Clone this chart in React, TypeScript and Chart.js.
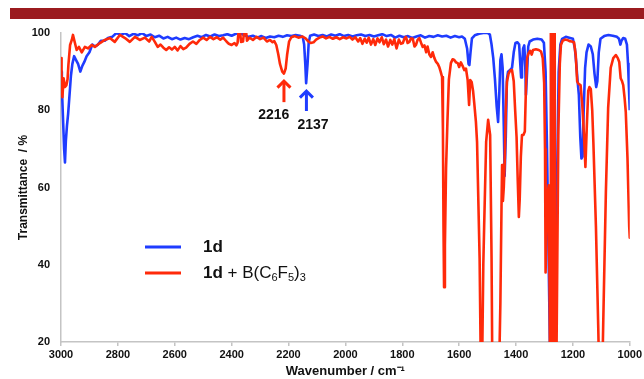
import React, { useEffect, useRef } from "react";
import { Chart, registerables } from "chart.js";

Chart.register(...registerables);

// ---- Data ----
const blueWn = [3000,2997,2993,2989,2986,2983,2979,2975,2970,2965,2960,2954,2947,2940,2932,2925,2918,2910,2900,2890,2880,2870,2860,2846,2835,2820,2805,2790,2775,2760,2745,2730,2715,2700,2685,2670,2655,2640,2625,2610,2595,2580,2565,2550,2535,2520,2505,2490,2475,2460,2445,2430,2415,2400,2385,2370,2355,2340,2325,2310,2295,2280,2265,2250,2235,2220,2205,2190,2175,2160,2150,2145,2141,2138,2136,2133,2129,2124,2110,2095,2080,2065,2050,2035,2020,2005,1990,1975,1960,1945,1930,1915,1900,1885,1870,1855,1840,1825,1810,1795,1780,1765,1750,1735,1720,1705,1690,1675,1660,1645,1630,1615,1600,1590,1580,1572,1567,1564,1560,1555,1545,1530,1515,1500,1492,1486,1480,1474,1468,1463,1459,1455,1451,1447,1443,1440,1436,1432,1428,1420,1414,1408,1402,1395,1389,1385,1382,1379,1375,1371,1368,1365,1361,1357,1352,1340,1325,1310,1302,1296,1291,1286,1281,1278,1268,1262,1256,1250,1244,1238,1225,1210,1200,1193,1188,1184,1179,1174,1170,1166,1162,1157,1152,1145,1137,1130,1124,1118,1114,1109,1103,1090,1075,1060,1045,1038,1033,1029,1023,1016,1010,1006,1003,1000];
const blueT = [90,86,78,70,66.5,72,76,79,84,89,92,94,93,92,90,91.5,92.5,94,95,97,96.5,97,98,98,98.7,99,100,99.5,100,99.2,99.8,99.4,100,99.2,99.6,98.9,99.3,98.6,99,98.4,98.8,98.3,98.7,98.4,98.9,99.3,98.9,99.5,99.1,99.6,99.2,99.4,99.7,99.3,99.8,100,99.4,99,99.3,98.8,99.2,98.7,99.1,98.9,99.3,99,99.4,99.2,99.5,99.3,99,97,92,87,87,92,97.5,99.3,99.6,99.2,99.5,99.1,99.6,99.3,99.7,99.2,99.5,99.1,99.4,99.6,99.2,99.5,99.1,99.4,99.7,99.2,99.5,98.8,99.3,98.9,99.2,98.7,99.1,99.4,98.8,99.2,99,99.4,99.1,99.3,98.8,99.2,98.9,99.1,98.5,96,92,91.7,95,98.6,99.4,99.8,100,100,99.6,97,93.5,88,81,77,84,93,94.5,91,76,63,73,88,90,90.5,91,95,97.4,97.6,97,92,88.5,91,96,96.8,93,84,90,96.5,97.8,98.3,98.5,98.3,97.5,90,70,45,20,5,5,10,60,90,97,98.5,99,98.7,98.5,96,92,88,84,73,67.5,68,80,91,95,97,96.5,94.5,89.5,86,87.5,95,98.5,99.2,99.5,99.3,99,98.5,97,98,98.7,98.5,97,92,86,80];

const redWn = [3000,2998,2995,2991,2986,2981,2977,2974,2968,2962,2958,2951,2945,2937,2927,2916,2905,2892,2881,2863,2846,2828,2811,2793,2775,2758,2740,2723,2705,2690,2681,2670,2660,2650,2640,2630,2620,2610,2600,2590,2580,2570,2560,2548,2536,2524,2512,2500,2488,2476,2464,2452,2440,2430,2418,2410,2400,2390,2383,2379,2375,2371,2367,2360,2355,2350,2346,2337,2325,2312,2300,2288,2276,2265,2256,2250,2243,2236,2230,2222,2216,2210,2205,2198,2190,2178,2165,2152,2140,2130,2122,2112,2103,2091,2080,2068,2056,2044,2032,2020,2008,1996,1985,1975,1965,1955,1948,1940,1932,1925,1918,1910,1902,1895,1887,1880,1872,1865,1857,1850,1842,1835,1828,1820,1812,1805,1798,1792,1787,1781,1775,1769,1763,1757,1752,1746,1740,1734,1728,1722,1716,1711,1705,1699,1693,1687,1681,1675,1670,1665,1660,1657,1655,1653,1650,1646,1641,1636,1629,1623,1617,1611,1605,1600,1594,1588,1582,1576,1570,1565,1561,1556,1551,1547,1541,1537,1532,1528,1524,1519,1515,1512,1505,1498,1491,1486,1483,1460,1455,1451,1449,1446,1443,1440,1436,1432,1426,1420,1414,1408,1403,1398,1394,1390,1387,1383,1379,1374,1369,1365,1361,1356,1350,1345,1340,1330,1320,1312,1306,1301,1298,1296,1293,1289,1285,1282,1280,1278,1277,1276,1275,1274,1273,1272,1271,1270,1269,1268,1267,1266,1265,1264,1263,1262,1259,1255,1251,1246,1242,1236,1228,1220,1212,1204,1196,1190,1185,1180,1173,1167,1161,1156,1151,1146,1142,1137,1132,1128,1119,1111,1107,1097,1093,1084,1076,1067,1058,1049,1042,1037,1032,1027,1023,1018,1014,1008,1002,1000];
const redT = [93.5,89,83.4,88.3,86,86.5,88,91.7,96.9,98.2,99.5,97.4,95.6,96.4,95,96.4,96,96.9,96.4,97.4,98.2,98.7,97.7,99.5,98.7,97.7,99,98.2,98.8,97.8,99,97.7,96.4,97,96.2,95.6,96.3,95.7,96.4,95.5,96.6,95.8,96.2,97.2,97.8,97.2,98.2,98.8,98.2,99,98.4,98.9,98.3,98.8,97.8,97.2,96.9,97.4,96.8,97.5,101,101,97.7,97.8,101,101,98,98.8,98.2,99,98.4,98.8,97.8,98.2,97.6,97.9,96.9,94.5,92,90,89.5,90.8,94.3,97.8,98.9,99.2,98.8,99.1,98.6,97.8,97.4,97.6,98.3,98.8,99.1,98.6,99,98.5,98.9,98.4,98.9,98.6,99,98.3,98.9,97.8,98.7,97.2,98.5,97.5,98.8,97,98.4,96.9,98.6,97.6,98.9,97.1,98.3,96.5,98.2,97,98.4,96,98.3,97.2,97.4,98.6,99,97.4,97.7,98.6,98.5,96.5,96.9,98.2,98.7,97.5,96.4,96.8,95,96.5,94.5,93.8,95,93.5,92.5,92,91.2,90,88.6,75,50,34.2,45,65,77.5,88,92.2,93.2,93,92.4,92.2,91.2,92.4,91.5,90.4,90.8,87.8,81.4,87.8,87.3,85,82,77,71.8,55,41.7,15,15,40,50,71.8,77.5,73.6,41.7,10,10,30,55,65.8,56.5,60,66,80,87.3,89.5,90.3,90.4,87.5,80,73,62,52.4,57,68,73.6,73.6,74.5,86,93.5,94.7,95.4,94.4,95.6,95.8,95.6,95.2,93.5,87,70,38,48,58,60.6,35,5,5,101,0,101,0,101,0,101,0,101,0,101,0,101,0,101,0,5,40,75,92,96.9,98,98.3,98.2,97.9,97.8,97.6,94.3,87.5,86.8,86.5,81.4,73.6,65.3,76,85,86,85.5,80,71.8,50,24.4,10,10,26,58.8,80.6,91,93.5,94.3,93.5,92.5,88.3,87.5,86.5,83,79.5,67.6,50,47];

const seriesNames = ["1d", "1d + B(C6F5)3"];
const peakWn = [2216, 2137];
const peakLabels = ["2216", "2137"];
const arrowTopT = [87.8, 85.2];
const arrowBottomT = [82.1, 79.8];
const labelWn = [2252, 2114];
const labelT = [78.8, 76.2];

const BLUE = "#1f3cff";
const RED = "#ff2a0a";
const BAR = "#9b1b1f";
const AXIS = "#c4c4c4";
const FONT = "'Liberation Sans', Arial, Helvetica, sans-serif";

function drawRich(ctx: CanvasRenderingContext2D, x: number, y: number, size: number) {
  const parts: { t: string; bold?: boolean; sub?: boolean }[] = [
    { t: "1d", bold: true },
    { t: " + B(C" },
    { t: "6", sub: true },
    { t: "F" },
    { t: "5", sub: true },
    { t: ")" },
    { t: "3", sub: true },
  ];
  let cx = x;
  for (const p of parts) {
    const s = p.sub ? Math.round(size * 0.65) : size;
    ctx.font = `${p.bold ? "bold " : ""}${s}px ${FONT}`;
    ctx.fillText(p.t, cx, p.sub ? y + size * 0.3 : y);
    cx += ctx.measureText(p.t).width;
  }
}

const overlayPlugin = {
  id: "overlay",
  beforeDraw(chart: any) {
    const ctx = chart.ctx as CanvasRenderingContext2D;
    ctx.save();
    ctx.fillStyle = BAR;
    ctx.fillRect(10, 8, chart.width - 10, 11);
    ctx.restore();
  },
  afterDatasetsDraw(chart: any) {
    const ctx = chart.ctx as CanvasRenderingContext2D;
    const xs = chart.scales.x;
    const ys = chart.scales.y;
    const area = chart.chartArea;
    ctx.save();
    const colors = [RED, BLUE];
    // arrows and peak labels
    for (let i = 0; i < peakWn.length; i++) {
      const px = xs.getPixelForValue(peakWn[i]);
      const yt = ys.getPixelForValue(arrowTopT[i]);
      const yb = ys.getPixelForValue(arrowBottomT[i]);
      ctx.strokeStyle = colors[i];
      ctx.lineWidth = 3;
      ctx.lineCap = "butt";
      ctx.lineJoin = "miter";
      ctx.beginPath();
      ctx.moveTo(px, yt + 1);
      ctx.lineTo(px, yb);
      ctx.stroke();
      ctx.beginPath();
      ctx.moveTo(px - 6.5, yt + 7.5);
      ctx.lineTo(px, yt + 1);
      ctx.lineTo(px + 6.5, yt + 7.5);
      ctx.stroke();
      ctx.fillStyle = "#111";
      ctx.font = `bold 14px ${FONT}`;
      ctx.textAlign = "center";
      ctx.textBaseline = "middle";
      ctx.fillText(peakLabels[i], xs.getPixelForValue(labelWn[i]), ys.getPixelForValue(labelT[i]));
    }
    // legend
    const legendColors = [BLUE, RED];
    const rowY = [area.top + 214, area.top + 240];
    ctx.textAlign = "left";
    ctx.textBaseline = "middle";
    for (let i = 0; i < seriesNames.length; i++) {
      ctx.strokeStyle = legendColors[i];
      ctx.lineWidth = 3;
      ctx.beginPath();
      ctx.moveTo(area.left + 84, rowY[i]);
      ctx.lineTo(area.left + 120, rowY[i]);
      ctx.stroke();
      ctx.fillStyle = "#111";
      if (i === 0) {
        ctx.font = `bold 17px ${FONT}`;
        ctx.fillText(seriesNames[0], area.left + 142, rowY[i]);
      } else {
        drawRich(ctx, area.left + 142, rowY[i], 17);
      }
    }
    ctx.restore();
  },
};

export default function App() {
  const ref = useRef<HTMLCanvasElement | null>(null);
  useEffect(() => {
    document.body.style.margin = "0";
    if (!ref.current) return;
    const chart = new Chart(ref.current, {
      type: "line",
      data: {
        datasets: [
          {
            label: seriesNames[1],
            data: redWn.map((w, i) => ({ x: w, y: redT[i] })),
            borderColor: RED,
            borderWidth: 2.6,
            pointRadius: 0,
            tension: 0,
            fill: false,
            borderJoinStyle: "round",
            order: 0,
          },
          {
            label: seriesNames[0],
            data: blueWn.map((w, i) => ({ x: w, y: blueT[i] })),
            borderColor: BLUE,
            borderWidth: 2.6,
            pointRadius: 0,
            tension: 0,
            fill: false,
            borderJoinStyle: "round",
            order: 1,
          },
        ],
      },
      options: {
        animation: false,
        responsive: true,
        maintainAspectRatio: false,
        layout: { padding: { left: 0, right: 13, top: 33, bottom: 0 } },
        plugins: { legend: { display: false }, tooltip: { enabled: false } },
        scales: {
          x: {
            type: "linear",
            reverse: true,
            min: 1000,
            max: 3000,
            ticks: {
              stepSize: 200,
              autoSkip: false,
              maxRotation: 0,
              color: "#111",
              padding: 2,
              font: { family: FONT, size: 11, weight: "bold" },
              callback: (v: any) => String(v),
            },
            grid: { display: true, drawOnChartArea: false, drawTicks: true, tickLength: 4, color: AXIS, lineWidth: 1.5 },
            border: { display: true, color: AXIS, width: 1.5 },
            title: {
              display: true,
              text: "Wavenumber / cm\u207B\u00B9",
              color: "#111",
              font: { family: FONT, size: 13, weight: "bold" },
              padding: { top: 0, bottom: 0 },
            },
            afterFit: (s: any) => { s.height = 37; },
          },
          y: {
            type: "linear",
            min: 20,
            max: 100,
            ticks: {
              stepSize: 20,
              color: "#111",
              padding: 11,
              font: { family: FONT, size: 11, weight: "bold" },
              callback: (v: any) => String(v),
            },
            grid: { display: false, drawTicks: false },
            border: { display: true, color: AXIS, width: 1.5 },
            title: {
              display: true,
              text: "Transmittance  / %",
              color: "#111",
              font: { family: FONT, size: 12, weight: "bold" },
              padding: { top: 16, bottom: 0 },
            },
            afterFit: (s: any) => { s.width = 61; },
          },
        },
      },
      plugins: [overlayPlugin],
    } as any);
    return () => chart.destroy();
  }, []);
  return (
    <div style={{ position: "fixed", left: 0, top: 0, width: 644, height: 379, background: "#fff" }}>
      <canvas ref={ref} />
    </div>
  );
}
